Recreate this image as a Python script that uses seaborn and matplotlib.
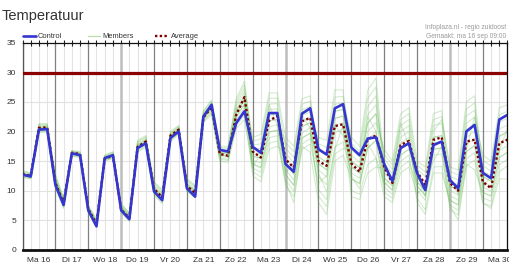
import numpy as np
import pandas as pd
import matplotlib
matplotlib.use("Agg")
import matplotlib.pyplot as plt
from matplotlib.lines import Line2D
from matplotlib.patches import Rectangle
import seaborn as sns

# ---------------- data (6-hourly steps, 00/06/12/18h) ----------------
day_labels = ["Ma 16", "Di 17", "Wo 18", "Do 19", "Vr 20", "Za 21", "Zo 22", "Ma 23",
              "Di 24", "Wo 25", "Do 26", "Vr 27", "Za 28", "Zo 29", "Ma 30"]

control = [12.7, 12.4, 20.3, 20.4, 11.0, 7.6, 16.3, 16.0, 6.7, 4.0, 15.5, 16.0,
           6.7, 5.2, 17.2, 18.0, 9.9, 8.4, 18.9, 20.0, 10.4, 9.0, 22.5, 24.5,
           16.9, 16.6, 21.4, 23.4, 17.4, 16.4, 23.1, 23.1, 14.5, 13.2, 23.0, 23.9,
           17.0, 16.1, 23.9, 24.6, 17.3, 16.0, 18.8, 19.0, 14.5, 11.6, 17.2, 18.0,
           13.0, 10.1, 17.7, 18.3, 11.8, 10.4, 20.0, 21.1, 13.0, 12.1, 22.0, 22.8]

average = [12.8, 12.5, 20.6, 20.7, 11.3, 7.9, 16.4, 16.2, 6.9, 4.4, 15.4, 15.9,
           6.8, 5.4, 17.4, 18.3, 10.3, 8.9, 19.3, 20.3, 10.8, 9.6, 22.3, 24.1,
           16.2, 15.9, 22.8, 25.8, 16.6, 15.6, 21.8, 22.6, 15.3, 13.9, 21.7, 22.3,
           15.0, 14.2, 20.9, 21.2, 14.6, 13.2, 18.7, 19.3, 14.0, 11.3, 17.7, 18.4,
           13.2, 11.0, 18.6, 19.0, 11.3, 10.0, 18.3, 18.6, 11.5, 10.4, 18.0, 18.6]

m01 = [12.8, 12.5, 20.5, 20.6, 11.4, 7.7, 16.2, 16.0, 7.0, 4.6, 15.6, 16.1,
       7.0, 5.5, 17.5, 18.3, 10.2, 8.8, 19.0, 20.1, 10.9, 9.9, 22.5, 24.0,
       16.5, 16.4, 23.5, 25.9, 18.4, 18.7, 25.6, 25.6, 17.2, 15.6, 23.6, 24.2,
       15.7, 14.8, 23.4, 23.7, 14.0, 13.0, 22.5, 20.0, 12.2, 10.8, 17.0, 18.0,
       12.2, 10.8, 19.0, 19.3, 12.4, 11.8, 22.6, 23.6, 15.1, 14.2, 22.8, 23.4]
m02 = [12.6, 12.3, 20.3, 20.3, 11.9, 8.1, 16.4, 16.2, 6.8, 4.4, 15.4, 15.9,
       6.8, 5.3, 17.1, 17.9, 10.6, 9.2, 19.3, 20.4, 10.7, 9.7, 22.3, 23.8,
       17.3, 17.2, 25.0, 27.9, 17.1, 17.1, 23.7, 23.8, 12.7, 10.9, 18.9, 19.7,
       10.2, 8.5, 17.4, 18.2, 13.0, 12.1, 18.6, 20.0, 11.0, 12.2, 21.5, 17.5,
       11.5, 10.0, 18.0, 18.3, 8.4, 7.6, 16.6, 17.6, 8.8, 8.2, 14.4, 15.3]
m03 = [13.0, 12.7, 20.9, 20.9, 11.7, 7.9, 16.3, 16.1, 6.9, 4.5, 15.5, 16.0,
       7.5, 6.0, 18.1, 18.9, 10.8, 9.5, 19.5, 20.6, 11.1, 10.1, 22.7, 24.3,
       16.0, 15.9, 22.5, 24.6, 14.5, 13.9, 19.9, 20.2, 15.4, 13.7, 21.7, 22.4,
       17.9, 17.3, 25.8, 25.9, 19.0, 17.5, 27.0, 29.0, 14.6, 12.9, 20.0, 21.0,
       10.8, 9.2, 17.0, 17.2, 12.5, 9.3, 17.0, 22.5, 12.4, 11.6, 19.2, 19.9]
m04 = [12.3, 12.1, 20.0, 20.0, 11.0, 7.4, 16.0, 15.8, 6.7, 4.2, 15.3, 15.8,
       6.6, 5.1, 16.9, 17.7, 10.0, 8.5, 18.8, 20.0, 10.2, 9.2, 21.9, 23.3,
       15.5, 15.3, 21.5, 23.3, 15.8, 15.5, 21.8, 22.0, 18.1, 16.6, 24.6, 25.1,
       14.6, 13.5, 22.2, 22.6, 12.0, 11.2, 17.2, 18.5, 10.6, 9.4, 15.0, 16.0,
       8.7, 6.8, 14.0, 14.1, 7.5, 5.0, 14.5, 13.5, 9.7, 9.1, 15.6, 16.5]
m05 = [13.3, 12.9, 21.2, 21.2, 12.3, 8.4, 16.6, 16.4, 7.1, 4.8, 15.7, 16.2,
       7.2, 5.7, 17.7, 18.5, 11.3, 10.0, 19.8, 20.9, 11.6, 10.6, 23.1, 24.8,
       16.8, 16.7, 24.0, 26.6, 13.8, 13.1, 18.9, 19.3, 10.9, 9.0, 17.0, 17.9,
       11.3, 12.5, 21.0, 19.3, 15.0, 13.9, 21.4, 23.0, 16.2, 14.3, 22.0, 23.0,
       13.6, 12.4, 21.0, 21.4, 10.8, 10.1, 20.2, 21.2, 10.6, 9.9, 16.8, 17.6]
m06 = [12.7, 12.6, 20.6, 20.5, 11.2, 7.5, 16.1, 15.9, 6.5, 4.1, 15.2, 15.6,
       6.9, 5.4, 17.3, 18.1, 9.7, 8.3, 18.6, 19.8, 10.5, 9.5, 22.1, 23.6,
       16.3, 16.2, 23.0, 25.3, 16.4, 16.3, 22.7, 22.9, 14.5, 12.8, 20.8, 21.5,
       12.4, 11.0, 19.8, 20.4, 12.5, 10.3, 18.0, 15.5, 11.4, 10.1, 16.0, 17.0,
       14.3, 13.2, 22.0, 22.5, 14.0, 13.5, 25.0, 26.0, 13.3, 12.5, 20.4, 21.1]
m07 = [12.7, 12.4, 20.4, 20.5, 12.1, 8.3, 16.5, 16.3, 7.3, 4.9, 15.8, 16.4,
       7.2, 5.7, 17.7, 18.5, 10.4, 9.0, 19.2, 20.3, 11.3, 10.3, 22.9, 24.6,
       15.8, 15.6, 22.0, 24.0, 15.1, 14.7, 20.8, 21.1, 13.0, 14.7, 22.7, 20.5,
       9.1, 7.3, 16.2, 17.1, 17.0, 15.7, 24.2, 26.0, 13.0, 11.5, 18.0, 19.0,
       10.1, 8.4, 16.0, 16.2, 7.6, 6.7, 15.4, 16.4, 7.9, 7.4, 13.2, 14.2]
m08 = [12.9, 12.6, 20.7, 20.7, 11.7, 7.9, 16.3, 16.1, 7.4, 5.1, 15.9, 16.5,
       7.4, 5.9, 17.9, 18.7, 11.1, 9.7, 19.7, 20.7, 11.8, 10.8, 23.3, 25.1,
       17.5, 17.5, 25.5, 28.5, 17.7, 17.9, 24.6, 24.7, 13.6, 11.8, 19.8, 20.6,
       13.5, 12.3, 21.0, 21.5, 16.0, 14.8, 22.8, 24.5, 15.4, 13.6, 21.0, 22.0,
       12.2, 10.8, 19.0, 19.3, 11.6, 11.0, 21.4, 22.4, 16.0, 15.0, 24.0, 24.5]
m09 = [12.4, 12.2, 20.1, 20.2, 10.7, 7.2, 15.9, 15.7, 6.4, 3.9, 15.1, 15.5,
       6.8, 5.3, 17.1, 17.9, 9.5, 8.0, 18.5, 19.7, 10.0, 9.0, 21.7, 23.1,
       15.3, 15.1, 21.0, 22.7, 13.2, 12.3, 18.0, 18.4, 11.8, 9.9, 17.9, 18.8,
       16.8, 16.0, 24.6, 24.8, 10.0, 9.4, 14.4, 15.5, 9.0, 8.0, 13.0, 14.0,
       9.4, 11.0, 15.0, 17.5, 9.2, 8.4, 17.8, 18.8, 11.5, 10.8, 18.0, 18.8]
m10 = [13.4, 13.0, 21.3, 21.3, 12.6, 8.6, 16.7, 16.5, 6.9, 4.5, 15.5, 16.0,
       7.7, 6.2, 18.3, 19.1, 10.6, 9.2, 19.3, 20.4, 12.0, 11.0, 23.5, 25.3,
       17.0, 17.0, 24.5, 27.2, 19.0, 19.5, 26.5, 26.5, 19.0, 17.5, 25.5, 26.0,
       14.6, 13.5, 22.2, 22.6, 18.0, 16.6, 25.6, 27.5, 12.2, 10.8, 17.0, 18.0,
       12.9, 9.0, 20.0, 22.0, 13.2, 12.7, 23.8, 24.8, 9.7, 9.1, 15.6, 16.5]
m11 = [13.2, 12.8, 21.0, 21.0, 11.4, 7.7, 16.2, 16.0, 7.0, 4.6, 15.6, 16.1,
       7.0, 5.5, 17.5, 18.3, 10.0, 8.5, 18.8, 20.0, 10.9, 9.9, 22.5, 24.0,
       16.0, 15.9, 22.5, 24.6, 14.5, 13.9, 19.9, 20.2, 11.5, 8.0, 17.5, 16.5,
       8.0, 6.0, 15.0, 16.0, 12.0, 11.2, 17.2, 18.5, 9.8, 8.7, 14.0, 15.0,
       10.8, 9.2, 17.0, 17.2, 6.8, 5.9, 14.2, 15.2, 8.0, 7.0, 12.0, 12.0]
m12 = [12.2, 12.0, 19.8, 19.9, 10.5, 7.0, 15.8, 15.6, 6.3, 3.8, 15.0, 15.4,
       6.5, 5.0, 16.7, 17.5, 9.3, 7.8, 18.3, 19.5, 9.8, 8.8, 21.5, 22.8,
       15.0, 14.8, 20.5, 22.0, 14.0, 16.3, 24.5, 21.0, 14.5, 12.8, 20.8, 21.5,
       19.0, 18.5, 27.0, 27.0, 14.0, 13.0, 20.0, 21.5, 17.0, 15.0, 23.0, 24.0,
       15.0, 14.0, 23.0, 23.5, 10.0, 9.3, 19.0, 20.0, 12.4, 11.6, 19.2, 19.9]
m13 = [12.9, 12.6, 20.7, 20.7, 12.8, 8.8, 16.8, 16.6, 7.5, 5.2, 16.0, 16.6,
       7.8, 6.3, 18.5, 19.3, 11.5, 10.2, 20.0, 21.0, 10.7, 9.7, 22.3, 23.8,
       16.5, 16.4, 23.5, 25.9, 12.5, 11.5, 17.0, 17.5, 16.3, 14.7, 22.7, 23.3,
       13.0, 9.8, 17.0, 21.0, 9.0, 8.5, 13.0, 14.0, 13.8, 12.2, 19.0, 20.0,
       8.0, 6.0, 13.0, 13.0, 8.4, 7.6, 16.6, 17.6, 14.2, 13.3, 21.6, 22.2]
m14 = [12.6, 12.3, 20.3, 20.3, 11.9, 8.1, 16.4, 16.2, 6.7, 4.2, 15.3, 15.8,
       6.3, 4.8, 16.5, 17.3, 10.4, 9.0, 19.2, 20.3, 11.1, 10.1, 22.7, 24.3,
       16.3, 16.2, 23.0, 25.3, 15.8, 15.5, 21.8, 22.0, 12.7, 10.9, 18.9, 19.7,
       15.7, 14.8, 23.4, 23.7, 15.0, 13.9, 21.4, 23.0, 11.4, 10.1, 16.0, 17.0,
       11.5, 10.0, 18.0, 18.3, 10.8, 10.1, 20.2, 21.2, 10.6, 12.5, 16.8, 20.5]

members = [m01, m02, m03, m04, m05, m06, m07, m08, m09, m10, m11, m12, m13, m14]
threshold = 29.85

# ---------------- build frames ----------------
steps = list(range(len(control)))
df_members = pd.DataFrame({
    "step": [s for _ in members for s in steps],
    "temp": [v for m in members for v in m],
    "member": [k for k, m in enumerate(members) for _ in m],
})
df_main = pd.DataFrame({"step": steps, "control": control, "average": average})

# ---------------- styling ----------------
sns.set_style("white")
plt.rcParams["font.family"] = ["Liberation Sans", "DejaVu Sans"]

W, H = 519, 264
fig = plt.figure(figsize=(W / 100, H / 100), dpi=100)
ax = fig.add_axes([22.5 / W, (H - 250) / H, 485 / W, 207.5 / H])

n = len(steps)
# grid lines
for s in steps:
    if s % 4 == 0:
        if s in (12, 32, 52):
            ax.axvline(s, color="#bdbdbd", lw=1.8, zorder=0.6)
        else:
            ax.axvline(s, color="#808080", lw=0.9, zorder=0.6)
    else:
        ax.axvline(s, color="#e4e4e4", lw=0.8, zorder=0.5)
for yv in range(5, 35, 5):
    ax.axhline(yv, color="#e2e2e2", lw=0.8, zorder=0.5)

# members
sns.lineplot(data=df_members, x="step", y="temp", units="member", estimator=None,
             color="#5cb84a", alpha=0.27, lw=0.8, legend=False, ax=ax, zorder=2)
# threshold line
ax.axhline(threshold, color="#8b0000", lw=2.3, zorder=3)
# average
sns.lineplot(data=df_main, x="step", y="average", color="#7a0000", lw=1.7,
             linestyle=(0, (1, 1)), ax=ax, zorder=4)
# control
sns.lineplot(data=df_main, x="step", y="control", color="#3535d0", lw=1.9,
             ax=ax, zorder=5)

ax.set_xlim(0, n - 1)
ax.set_ylim(0, 35)
ax.set_xlabel("")
ax.set_ylabel("")

ax.set_yticks(range(0, 36, 5))
ax.set_yticklabels([str(v) for v in range(0, 36, 5)], fontsize=6, color="#333333")
ax.set_xticks(steps, minor=True)
ax.set_xticks([4 * d + 2 for d in range(len(day_labels))])
ax.set_xticklabels(day_labels, fontsize=6, color="#333333")
ax.tick_params(axis="x", which="both", direction="inout", length=5, width=0.8,
               color="#222222", pad=2.5, top=True)
ax.tick_params(axis="y", which="major", direction="out", length=3, width=0.8,
               color="#444444", pad=1.5)

for side in ["top", "right", "left"]:
    ax.spines[side].set_visible(True)
    ax.spines[side].set_linewidth(0.9)
    ax.spines[side].set_color("#111111")
ax.spines["left"].set_color("#555555")
ax.spines["bottom"].set_linewidth(2.0)
ax.spines["bottom"].set_color("#111111")

# the chart is cut off just right of the plot area (last day label truncated)
fig.add_artist(Rectangle((509 / W, 0), 10 / W, 13 / H, transform=fig.transFigure,
                         facecolor="white", edgecolor="none", zorder=20))

# title and notes
fig.text(2 / W, (H - 20) / H, "Temperatuur", fontsize=10.5, color="#333333",
         ha="left", va="baseline")
fig.text(506.5 / W, (H - 29) / H, "Infoplaza.nl - regio zuidoost", fontsize=4.8,
         color="#9a9a9a", ha="right", va="baseline")
fig.text(506.5 / W, (H - 37.5) / H, "Gemaakt: ma 16 sep 09:00", fontsize=4.8,
         color="#9a9a9a", ha="right", va="baseline")

# legend (above plot)
ly = (H - 36) / H
items = [("Control", 22.7, 35.7, 38, dict(color="#3535d0", lw=1.9)),
         ("Members", 88, 100, 102.5, dict(color="#b6dfa8", lw=0.9)),
         ("Average", 155, 168, 171, dict(color="#7a0000", lw=1.7, linestyle=(0, (1, 1))))]
for label, x0, x1, tx, kw in items:
    fig.add_artist(Line2D([x0 / W, x1 / W], [ly, ly], transform=fig.transFigure, **kw))
    fig.text(tx / W, ly, label, fontsize=5.4, color="#333333", ha="left", va="center")

fig.savefig("out.png", dpi=100)
